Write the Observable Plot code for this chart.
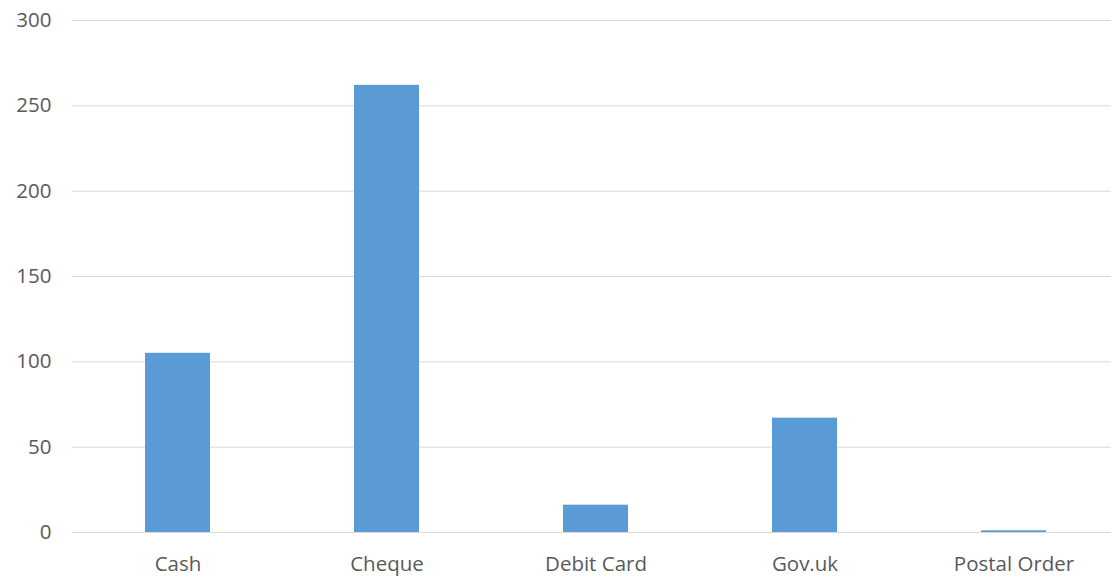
<!DOCTYPE html>
<html>
<head>
<meta charset="utf-8">
<script src="https://cdn.jsdelivr.net/npm/d3@7"></script>
<script src="https://cdn.jsdelivr.net/npm/@observablehq/plot@0.6"></script>
<style>
  html, body { margin: 0; padding: 0; background: #fff; }
  #chart svg { display: block; }
</style>
</head>
<body>
<div id="chart"></div>
<script>
const categories = ["Cash", "Cheque", "Debit Card", "Gov.uk", "Postal Order"];
const values = [105, 262, 16, 67, 1];
const yTicks = [0, 50, 100, 150, 200, 250, 300];

const data = categories.map((c, i) => ({category: c, value: values[i]}));

const chart = Plot.plot({
  width: 1111,
  height: 588,
  marginLeft: 72,
  marginRight: 0,
  marginTop: 20,
  marginBottom: 56,
  style: {fontFamily: "'Open Sans', sans-serif", fontSize: "21px", color: "#595959", background: "#fff"},
  x: {domain: categories, range: [72, 1119], paddingInner: 0.69, paddingOuter: 0.345, label: null},
  y: {domain: [0, 300], ticks: yTicks, label: null},
  marks: [
    Plot.ruleY(yTicks, {stroke: "#d9d9d9", strokeWidth: 1}),
    Plot.barY(data, {x: "category", y: "value", fill: "#5b9bd5"}),
    Plot.axisX({tickSize: 0, tickPadding: 24, fontSize: 20.5, fill: "#595959"}),
    Plot.axisY({ticks: yTicks, tickSize: 0, tickPadding: 21, fontSize: 20.5, fill: "#595959", label: null})
  ]
});
document.getElementById("chart").appendChild(chart);
</script>
</body>
</html>
